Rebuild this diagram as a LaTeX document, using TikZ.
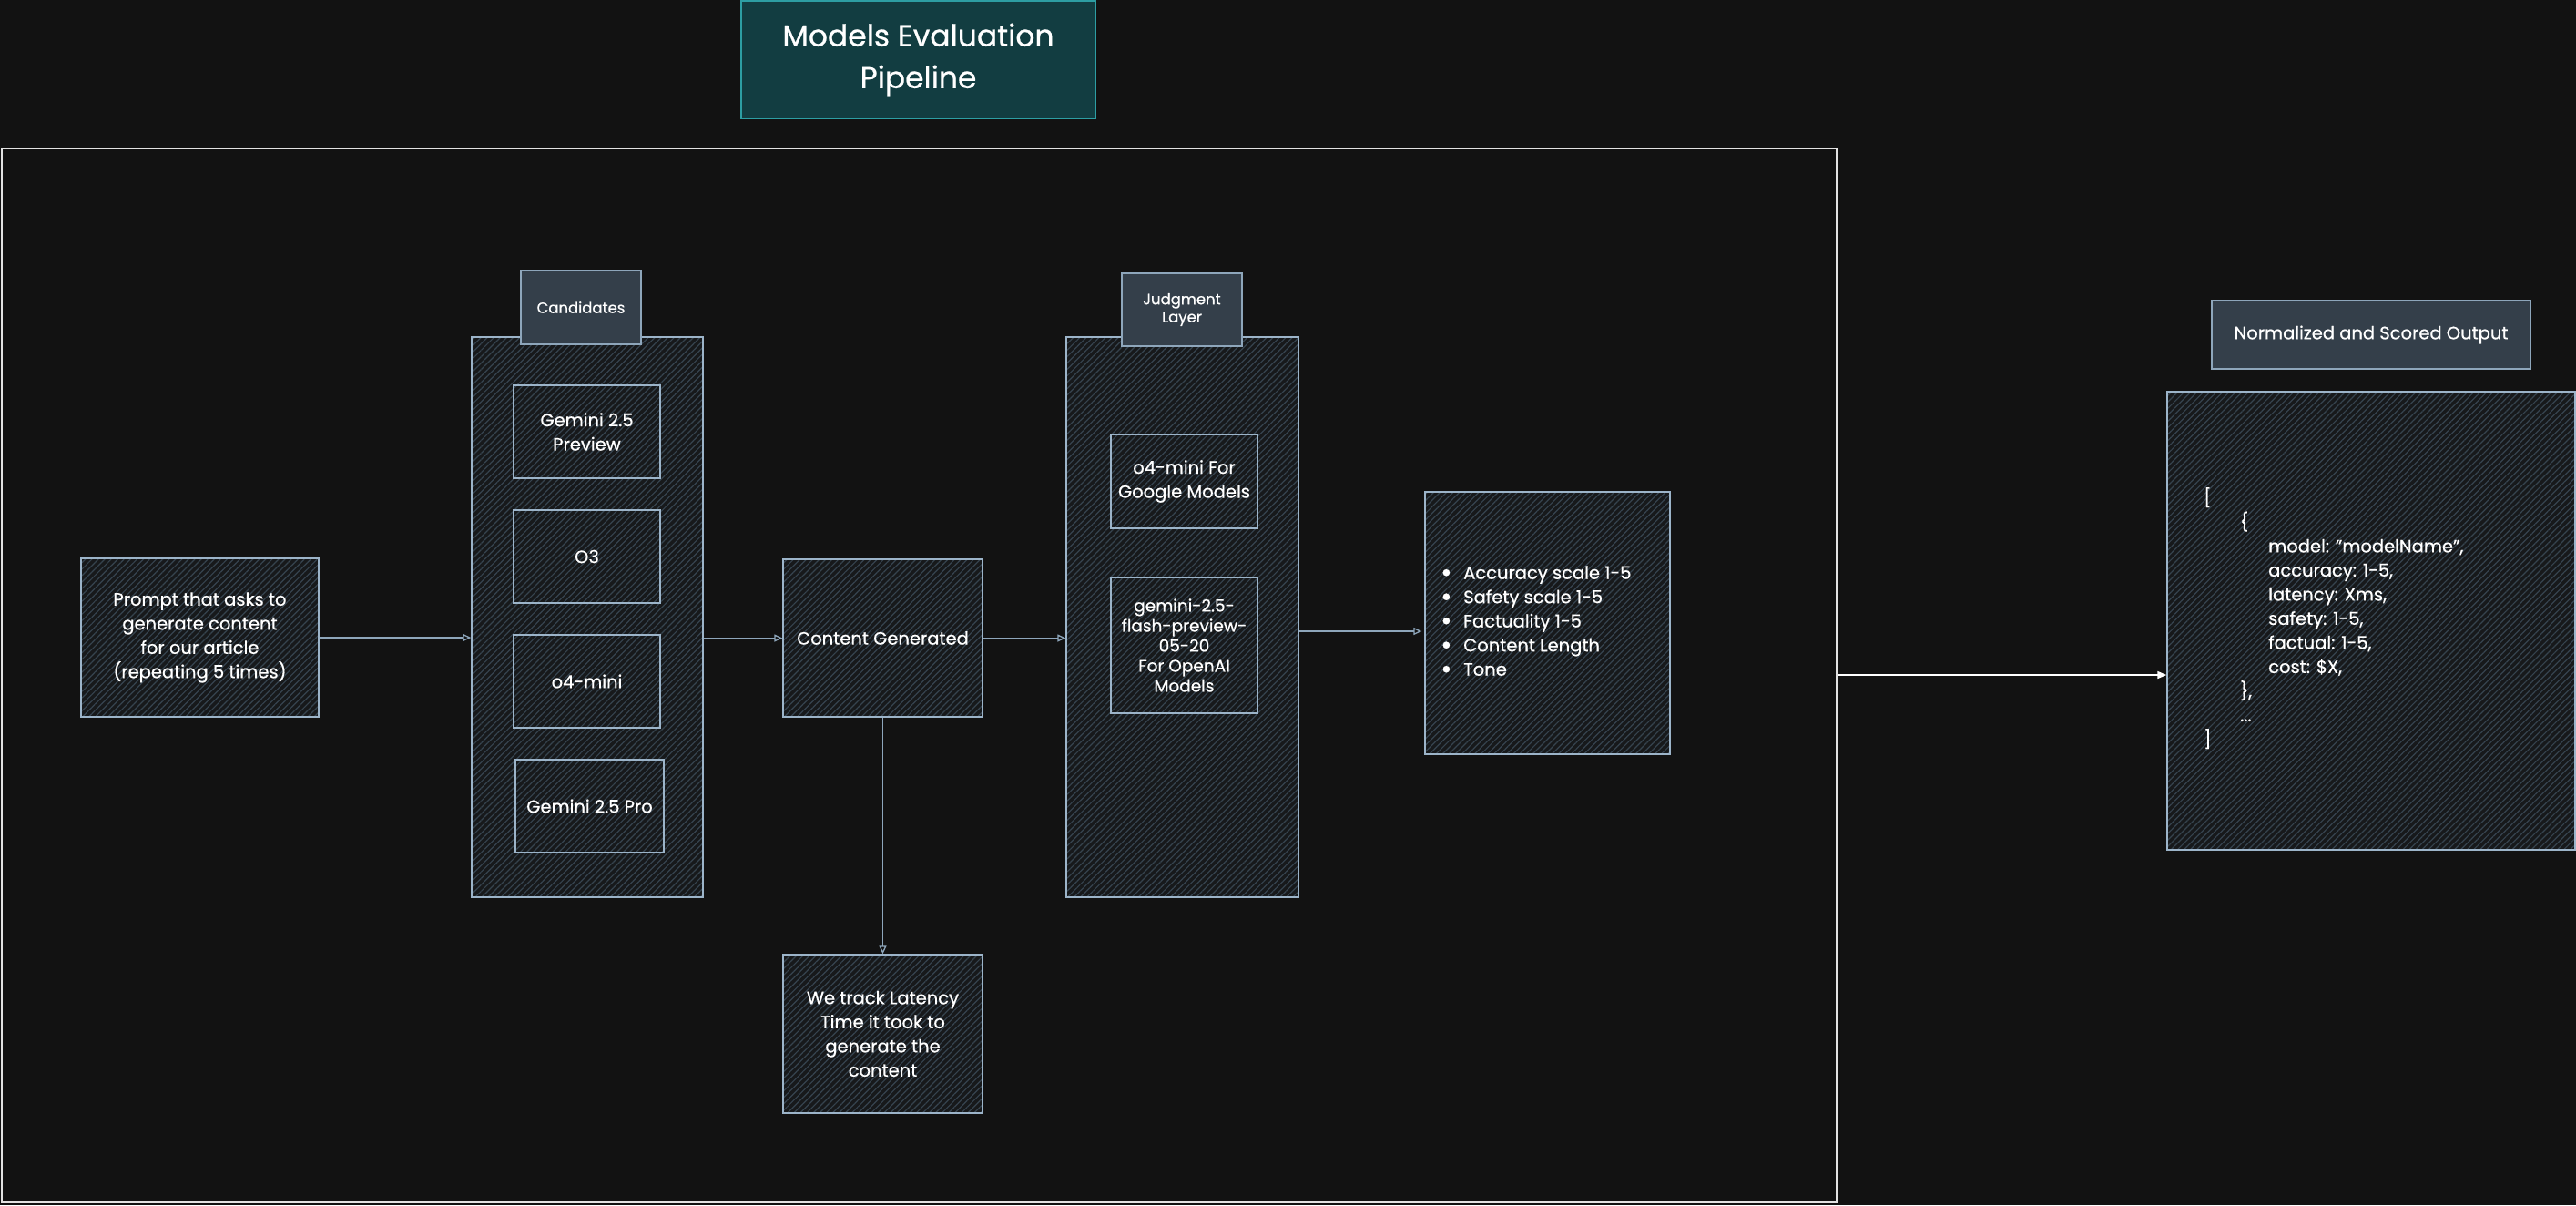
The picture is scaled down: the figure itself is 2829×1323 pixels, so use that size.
\documentclass[tikz,border=0pt]{standalone}
\usepackage{fontspec}
\setmainfont{Poppins}[FakeBold=0.6]
\usetikzlibrary{arrows.meta,patterns.meta,calc}
\definecolor{bg}{HTML}{121212}
\definecolor{boxbg}{HTML}{17191b}
\definecolor{hatch}{HTML}{36444f}
\definecolor{boxline}{HTML}{9cb4c9}
\definecolor{lblfill}{HTML}{343f4a}
\definecolor{lblline}{HTML}{8ea6bb}
\definecolor{titlefill}{HTML}{123d41}
\definecolor{titleline}{HTML}{2d9ea3}
\definecolor{framec}{HTML}{e2e2e2}
\definecolor{arrowc}{HTML}{8ea6bb}
\newcommand\fsA{\fontsize{19.5}{26.5}\selectfont}
\newcommand\fsB{\fontsize{16.5}{19.5}\selectfont}
\newcommand\fsT{\fontsize{33}{46}\selectfont}
\newcommand\bul{\makebox[25pt][l]{\fontsize{30}{0}\selectfont\raisebox{-3pt}{•}}}
\begin{document}
\begin{tikzpicture}[x=1pt,y=-1pt,
  hbox/.style={draw=boxline, line width=1.3pt, preaction={fill=boxbg},
    pattern={Lines[angle=45,distance=5pt,line width=1.2pt]}, pattern color=hatch,
    inner sep=0pt, align=center, text=white, font=\fsA},
  lbl/.style={draw=lblline, line width=1.2pt, fill=lblfill, inner sep=0pt,
    align=center, text=white},
  arr/.style={draw=arrowc, line width=1.3pt, -{Triangle[open, length=9pt, width=8pt]}},
  warr/.style={draw=white, line width=1.5pt, -{Triangle[length=10pt, width=8pt]}},
  txt/.style={inner sep=0pt, text=white, font=\fsA, align=left}
]
\fill[bg] (0,0) rectangle (2829,1323);
\useasboundingbox (0,0) rectangle (2829,1323);

% title
\node[draw=titleline, line width=1.3pt, fill=titlefill, text=white, font=\fsT,
  align=center, minimum width=389pt, minimum height=129pt, inner sep=0pt]
  (title) at (1008.5,65.5) {Models Evaluation\\Pipeline};

% big frame
\node[draw=framec, line width=2pt, minimum width=2015pt, minimum height=1157pt,
  inner sep=0pt] (frame) at (1009,741) {};

% prompt
\node[hbox, minimum width=261pt, minimum height=174pt] (prompt) at (219.5,700)
  {Prompt that asks to\\generate content\\for our article\\(repeating 5 times)};

% candidates
\node[hbox, minimum width=254pt, minimum height=615pt] (cand) at (645,677.5) {};
\node[lbl, font=\fsB, minimum width=132pt, minimum height=81pt] (candlbl) at (638,337.5) {Candidates};
\node[hbox, minimum width=161pt, minimum height=102pt] (gprev) at (644.5,474) {Gemini 2.5\\Preview};
\node[hbox, minimum width=161pt, minimum height=102pt] (othree) at (644.5,611) {O3};
\node[hbox, minimum width=161pt, minimum height=102pt] (ofour) at (644.5,748) {o4-mini};
\node[hbox, minimum width=163pt, minimum height=102pt] (gpro) at (647.5,885) {Gemini 2.5 Pro};

% content + latency
\node[hbox, minimum width=219pt, minimum height=173pt] (content) at (969.5,700.5) {Content Generated};
\node[hbox, minimum width=219pt, minimum height=174pt] (latency) at (969.5,1135)
  {We track Latency\\Time it took to\\generate the\\content};

% judgment
\node[hbox, minimum width=255pt, minimum height=615pt] (judge) at (1298.5,677.5) {};
\node[lbl, font=\fsB, minimum width=132pt, minimum height=80pt] (judgelbl) at (1298,340) {Judgment\\Layer};
\node[hbox, minimum width=161pt, minimum height=103pt] (jgoogle) at (1300.5,528.5) {o4-mini For\\Google Models};
\node[hbox, font=\fontsize{18.5}{22}\selectfont, minimum width=161pt, minimum height=149pt] (jopen) at (1300.5,708.5)
  {gemini-2.5-\\flash-preview-\\05-20\\For OpenAI\\Models};

% bullets
\node[hbox, minimum width=269pt, minimum height=288pt] (bullets) at (1699.5,684) {};
\node[txt, anchor=west] (blist) at (1582,683)
  {\bul Accuracy scale 1-5\\
   \bul Safety scale 1-5\\
   \bul Factuality 1-5\\
   \bul Content Length\\
   \bul Tone};

% output
\node[lbl, font=\fsA, minimum width=350pt, minimum height=75pt] (normlbl) at (2604,367.5) {Normalized and Scored Output};
\node[hbox, minimum width=448pt, minimum height=503pt] (out) at (2604,681.5) {};
\node[txt, anchor=north west] (json) at (2420,535)
  {[\\
   \hspace*{40pt}\{\\
   \hspace*{71pt}model: "modelName",\\
   \hspace*{71pt}accuracy: 1-5,\\
   \hspace*{71pt}latency: Xms,\\
   \hspace*{71pt}safety: 1-5,\\
   \hspace*{71pt}factual: 1-5,\\
   \hspace*{71pt}cost: \$X,\\
   \hspace*{40pt}\},\\
   \hspace*{40pt}...\\
   ]};

% connectors
\draw[arr] (prompt.east) -- (prompt.east -| cand.west);
\draw[arr] (cand.east |- content.west) -- (content.west);
\draw[arr] (content.east) -- (content.east -| judge.west);
\draw[arr] (content.south) -- (latency.north);
\draw[arr] ($(judge.east |- bullets.west)+(0,9)$) -- ($(bullets.west)+(-3,9)$);
\draw[warr] (frame.east) -- (frame.east -| out.west);
\end{tikzpicture}
\end{document}
